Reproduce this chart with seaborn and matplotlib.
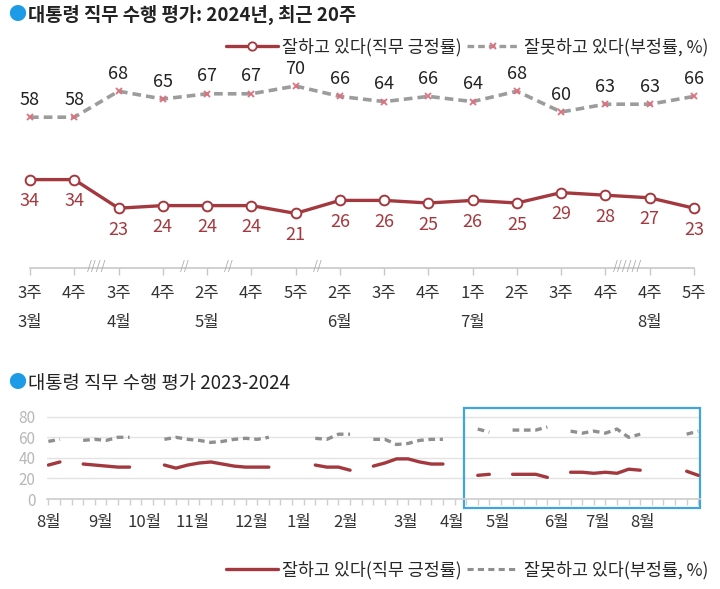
import numpy as np
import pandas as pd
import seaborn as sns
import matplotlib.pyplot as plt
from matplotlib.lines import Line2D
from matplotlib.patches import Rectangle

sns.set_theme(style="white")
plt.rcParams["font.family"] = ["Noto Sans CJK KR", "DejaVu Sans"]

RED = "#a3393e"
GRAY = "#9c9c9c"
PINK = "#e0707e"
BLUE = "#1e9be6"

# --- top chart: 2024, last 20 weeks (16 surveys) ---
week_labels = ["3주", "4주", "3주", "4주", "2주", "4주", "5주", "2주",
               "3주", "4주", "1주", "2주", "3주", "4주", "4주", "5주"]
month_labels = ["3월", "", "4월", "", "5월", "", "", "6월",
                "", "", "7월", "", "", "", "8월", ""]
approve = [34, 34, 23, 24, 24, 24, 21, 26, 26, 25, 26, 25, 29, 28, 27, 23]
disapprove = [58, 58, 68, 65, 67, 67, 70, 66, 64, 66, 64, 68, 60, 63, 63, 66]
# survey index -> number of weeks skipped right after it
skipped_after = {1: 2, 3: 1, 4: 1, 6: 1, 13: 3}

# --- bottom chart: weekly 2023-08 .. 2024-08, nan = no survey ---
nan = np.nan
approve_long = [33, 36, nan, 34, 33, 32, 31, 31, nan, nan,
                33, 30, 33, 35, 36, 34, 32, 31, 31, 31,
                nan, nan, nan, 33, 31, 31, 28, nan, 32, 35,
                39, 39, 36, 34, 34, nan, nan, 23, 24, nan,
                24, 24, 24, 21, nan, 26, 26, 25, 26, 25,
                29, 28, nan, nan, nan, 27, 23]
disapprove_long = [56, 58, nan, 57, 58, 57, 60, 60, nan, nan,
                   58, 60, 58, 57, 55, 56, 58, 59, 58, 60,
                   nan, nan, nan, 59, 58, 63, 63, nan, 58, 58,
                   53, 54, 57, 58, 58, nan, nan, 68, 65, nan,
                   67, 67, 67, 70, nan, 66, 64, 66, 64, 68,
                   60, 63, nan, nan, nan, 63, 66]
long_months = ["8월", "9월", "10월", "11월", "12월", "1월", "2월",
               "3월", "4월", "5월", "6월", "7월", "8월"]
long_month_pos = [0, 4.5, 8.3, 12.4, 17.5, 21.6, 25.6, 30.8, 34.8, 38.7, 43.8, 47.3, 51.2]
highlight_from = 35.8

lab_pos = "잘하고 있다(직무 긍정률)"
lab_neg = "잘못하고 있다(부정률, %)"

fig = plt.figure(figsize=(7.2, 5.89), dpi=100)
W, H = 720, 589

# ---------------- top ----------------
ax1 = fig.add_axes([30 / W, 1 - 268 / H, 664 / W, 260 / H])
top = pd.DataFrame({"idx": np.arange(len(approve)), "approve": approve,
                    "disapprove": disapprove})

sns.lineplot(data=top, x="idx", y="disapprove", ax=ax1, color=GRAY, lw=2.6,
             linestyle=(0, (2.4, 1.4)), marker="x", markersize=5,
             markeredgecolor=PINK, markeredgewidth=1.3, clip_on=False)
sns.lineplot(data=top, x="idx", y="approve", ax=ax1, color=RED, lw=2.4,
             marker="o", markersize=7, markerfacecolor="white",
             markeredgecolor=RED, markeredgewidth=1.4, clip_on=False)

for i, v in enumerate(disapprove):
    ax1.annotate(str(v), (i, v), xytext=(0, 6), textcoords="offset points",
                 ha="center", va="bottom", fontsize=13, color="#222222")
for i, v in enumerate(approve):
    ax1.annotate(str(v), (i, v), xytext=(0, -9), textcoords="offset points",
                 ha="center", va="top", fontsize=13, color=RED)

ax1.set_xlim(0, len(approve) - 1)
ax1.set_ylim(0, 100)
for s in ["top", "left", "right"]:
    ax1.spines[s].set_visible(False)
ax1.spines["bottom"].set_color("#c8c8c8")
ax1.spines["bottom"].set_linewidth(1.2)
ax1.set_xticks(top["idx"])
ax1.set_xticklabels([])
ax1.set_yticks([])
ax1.tick_params(axis="x", bottom=True, length=5, color="#c8c8c8", width=1)
ax1.set(xlabel="", ylabel="")

xt = ax1.get_xaxis_transform()
for i, (wk, mo) in enumerate(zip(week_labels, month_labels)):
    ax1.text(i, -25 / 260, wk, transform=xt, ha="center", va="center",
             fontsize=12, color="#333333")
    if mo:
        ax1.text(i, -54 / 260, mo, transform=xt, ha="center", va="center",
                 fontsize=12, color="#333333")
for i, n in skipped_after.items():
    ax1.text(i + 0.5, 0.004, "/" * (2 * n), transform=xt, ha="center", va="center",
             fontsize=9, color="#aaaaaa", fontstyle="italic")

fig.text(8 / W, 1 - 15 / H, "●", color=BLUE, fontsize=13, va="center", ha="left")
fig.text(28 / W, 1 - 15 / H, "대통령 직무 수행 평가: 2024년, 최근 20주",
         fontsize=13.5, fontweight="bold", color="#222222", va="center", ha="left")

h_top = [Line2D([], [], color=RED, lw=2.4, marker="o", ms=6, mfc="white",
                mec=RED, mew=1.3),
         Line2D([], [], color=GRAY, lw=2.4, ls=(0, (2, 1.2)), marker="x", ms=5,
                mec=PINK, mew=1.3)]
fig.legend(h_top, [lab_pos, lab_neg], loc="center right",
           bbox_to_anchor=(708 / W, 1 - 47 / H), ncol=2, frameon=False,
           fontsize=12.5, handlelength=3.0, handletextpad=0.25,
           columnspacing=0.3, borderaxespad=0, borderpad=0)

# ---------------- bottom ----------------
ax2 = fig.add_axes([46.6 / W, 90 / H, 653.4 / W, 86.4 / H])
bot = pd.DataFrame({"week": np.arange(len(approve_long)),
                    "approve": approve_long, "disapprove": disapprove_long})
bot["seg"] = bot["approve"].isna().cumsum()
bot = bot.dropna()

sns.lineplot(data=bot, x="week", y="disapprove", units="seg", estimator=None,
             ax=ax2, color="#8f8f8f", lw=2.4, linestyle=(0, (2, 1.4)),
             legend=False)
sns.lineplot(data=bot, x="week", y="approve", units="seg", estimator=None,
             ax=ax2, color=RED, lw=2.4, legend=False)

ax2.set_xlim(-0.15, len(approve_long) - 1 + 0.15)
ax2.set_ylim(0, 84)
ax2.set_yticks([0, 20, 40, 60, 80])
ax2.yaxis.grid(True, color="#e3e3e3", lw=1)
ax2.set_axisbelow(True)
for s in ["top", "left", "right"]:
    ax2.spines[s].set_visible(False)
ax2.spines["bottom"].set_color("#cfcfcf")
ax2.set_xticks(np.arange(len(approve_long)))
ax2.set_xticklabels([])
ax2.tick_params(axis="x", bottom=True, length=4, color="#cfcfcf", width=1)
ax2.tick_params(axis="y", length=0, labelsize=11, labelcolor="#b8b8b8", pad=8)
ax2.set(xlabel="", ylabel="")

xt2 = ax2.get_xaxis_transform()
for p, m in zip(long_month_pos, long_months):
    ax2.text(p, -23 / 86.4, m, transform=xt2, ha="center", va="center",
             fontsize=12, color="#333333")

ax2.add_patch(Rectangle((highlight_from, -9), ax2.get_xlim()[1] - highlight_from,
                        97.4, fill=False, ec="#3fa5dc", lw=1.6, clip_on=False))

fig.text(8 / W, 1 - 383 / H, "●", color=BLUE, fontsize=13, va="center", ha="left")
fig.text(28 / W, 1 - 383 / H, "대통령 직무 수행 평가 2023-2024",
         fontsize=13.5, fontweight="medium", color="#222222", va="center", ha="left")

h_bot = [Line2D([], [], color=RED, lw=2.4),
         Line2D([], [], color="#8f8f8f", lw=2.2, ls=(0, (2, 1.4)))]
fig.legend(h_bot, [lab_pos, lab_neg], loc="center right",
           bbox_to_anchor=(708 / W, 1 - 570 / H), ncol=2, frameon=False,
           fontsize=12.5, handlelength=3.0, handletextpad=0.25,
           columnspacing=0.3, borderaxespad=0, borderpad=0)

fig.savefig("out.png", dpi=100, facecolor="white")
